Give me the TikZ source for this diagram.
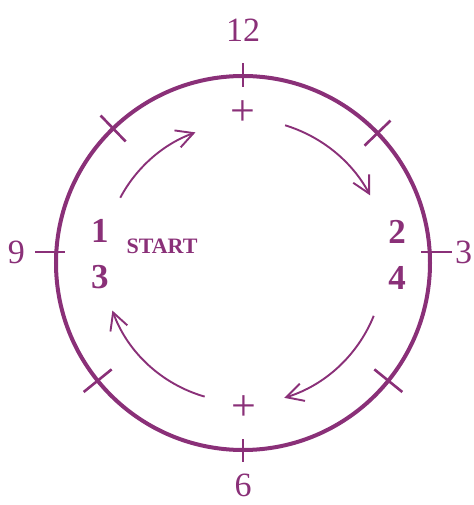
\documentclass[tikz,border=0pt]{standalone}
\usepackage{fontspec}
\setmainfont{Liberation Serif}
\usepackage{xcolor}
\usepackage{tikz}
\usetikzlibrary{arrows.meta,positioning}

\definecolor{clockpurple}{RGB}{138,48,120}

\begin{document}
\begin{tikzpicture}[x=1pt,y=1pt,clockpurple,
  hour/.style={font=\fontsize{34}{34}\selectfont,inner sep=0pt},
  plusmark/.style={font=\fontsize{44}{44}\selectfont,inner sep=0pt},
  turn/.style={font=\bfseries\fontsize{35}{35}\selectfont,inner sep=0pt},
  tickline/.style={line width=2.6pt},
  flow/.style={line width=1.9pt,-{Straight Barb[length=17pt,width=18pt]}}]
  % page frame
  \useasboundingbox (-243,-242) rectangle (230,263);
  % clock face
  \draw[line width=4pt] (0,0) circle (187);
  % hour ticks (9 and 3 sit a little high)
  \draw[tickline] (0,176) -- (0,200) coordinate (t12);
  \draw[tickline] (0,-176) -- (0,-199) coordinate (t6);
  \draw[tickline] (-178,11) -- (-208,11) coordinate (t9);
  \draw[tickline] (178,11) -- (209,11) coordinate (t3);
  % crossing marks between the hours
  \foreach \a in {44,134,219,-39}{
    \draw[tickline] (\a:169) -- (\a:205);
  }
  % hour labels
  \node[hour,above=21pt of t12] (twelve) {12};
  \node[hour,below=12pt of t6] (six) {6};
  \node[hour,left=10pt of t9] (nine) {9};
  \node[hour,right=3pt of t3] (three) {3};
  % marks inside the face
  \node[plusmark] (topmark) at (0,150) {+};
  \node[plusmark] (botmark) at (1,-145) {+};
  % turn numbers
  \node[turn] (one) at (-143,32) {1};
  \node[turn] (thr) at (-143,-14) {3};
  \node[turn] (two) at (154,31) {2};
  \node[turn] (fou) at (154,-15) {4};
  \node[font=\bfseries\fontsize{22}{22}\selectfont] (start) at (-81,17) {START};
  % direction of travel
  \draw[flow] (152:139) arc[start angle=152,end angle=110,radius=139];
  \draw[flow] (73:144) arc[start angle=73,end angle=28,radius=144];
  \draw[flow] (-22:141) arc[start angle=-22,end angle=-73,radius=141];
  \draw[flow] (-106:139) arc[start angle=-106,end angle=-160,radius=139];
\end{tikzpicture}
\end{document}
